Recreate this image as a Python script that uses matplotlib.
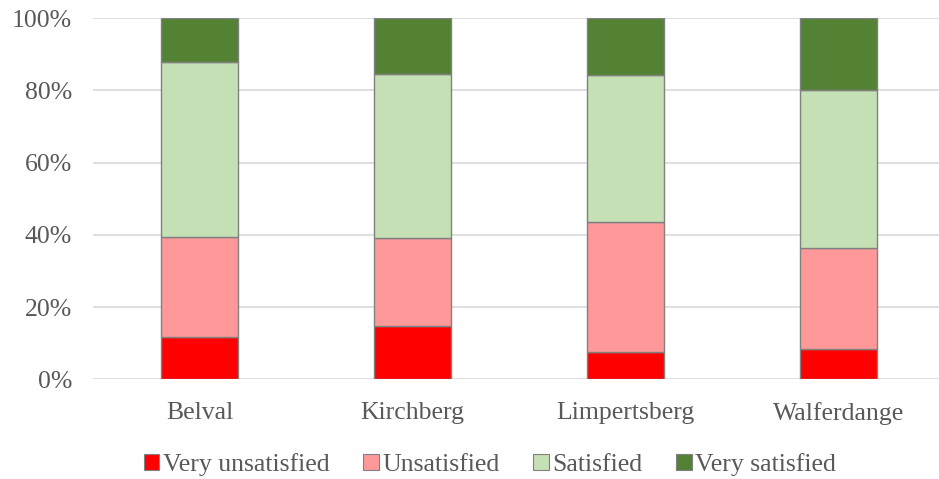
import matplotlib
matplotlib.use('Agg')
import matplotlib.pyplot as plt
import numpy as np
from matplotlib.ticker import PercentFormatter
from matplotlib.patches import Patch

plt.rcParams['font.family'] = ['Liberation Serif', 'DejaVu Serif']

TEXT_COLOR = '#595959'
GRID_COLOR = '#d9d9d9'
EDGE_COLOR = '#808080'
FONT_SIZE = 18.5

sites = ['Belval', 'Kirchberg', 'Limpertsberg', 'Walferdange']
levels = ['Very unsatisfied', 'Unsatisfied', 'Satisfied', 'Very satisfied']
colors = ['#ff0000', '#ff9999', '#c5e0b4', '#548235']

very_unsatisfied = [11.6, 14.8, 7.6, 8.3]
unsatisfied = [27.8, 24.3, 36.1, 28.1]
satisfied = [48.5, 45.5, 40.5, 43.7]
very_satisfied = [12.1, 15.4, 15.8, 19.9]

series = [very_unsatisfied, unsatisfied, satisfied, very_satisfied]

fig = plt.figure(figsize=(9.39, 4.79), dpi=100)
ax = fig.add_axes([93 / 939, 0.208, 852 / 939, 0.754])

x = np.arange(len(sites))
bottom = np.zeros(len(sites))
for vals, color in zip(series, colors):
    ax.bar(x, vals, 0.36, bottom=bottom, color=color, edgecolor=EDGE_COLOR,
           linewidth=1, zorder=3)
    bottom += np.array(vals)

ax.set_xlim(-0.5, len(sites) - 0.5)
ax.set_ylim(0, 100)
ax.set_yticks(np.arange(0, 101, 20))
ax.yaxis.set_major_formatter(PercentFormatter(decimals=0))
ax.set_xticks(x)
ax.set_xticklabels(sites)
ax.grid(axis='y', color=GRID_COLOR, linewidth=1.2, zorder=0)
for s in ax.spines.values():
    s.set_visible(False)
ax.tick_params(length=0, labelsize=FONT_SIZE, colors=TEXT_COLOR)
ax.tick_params(axis='x', pad=16)
ax.tick_params(axis='y', pad=15)

handles = [Patch(facecolor=c, edgecolor=EDGE_COLOR, linewidth=0.8) for c in colors]
fig.legend(handles, levels, loc='center', bbox_to_anchor=(0.522, 0.03), ncol=4,
           frameon=False, fontsize=FONT_SIZE, labelcolor=TEXT_COLOR,
           handlelength=0.6, handleheight=0.6, handletextpad=0.15, columnspacing=1.3)

fig.savefig('out.png', dpi=100)
